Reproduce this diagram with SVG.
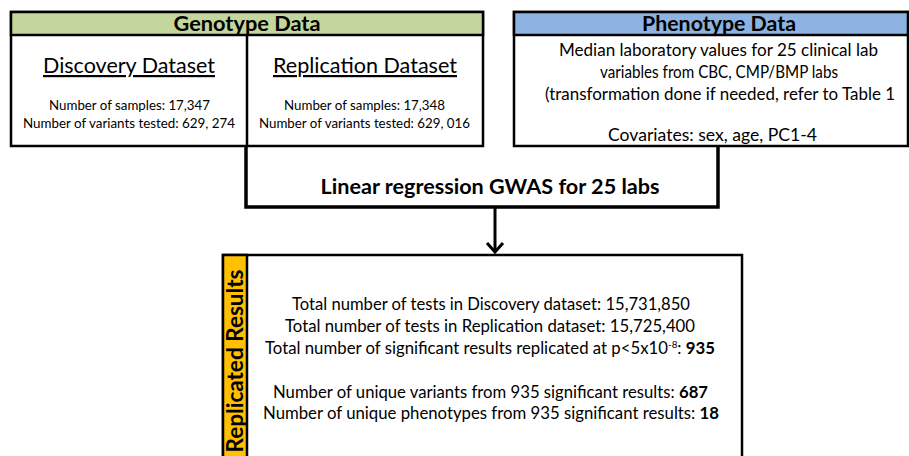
<svg xmlns="http://www.w3.org/2000/svg" width="909" height="456" viewBox="0 0 909 456">
<style>
text{font-family:Lato,"Open Sans","Liberation Sans",sans-serif;fill:#000;text-anchor:middle}
.box{fill:#fff;stroke:#000;stroke-width:2.5}
.hd{font-weight:bold;font-size:21px}
.ds{font-size:22px;text-decoration:underline}
.sm{font-size:14px}
.md{font-size:17px}
.b{font-weight:bold}
.conn{fill:none;stroke:#000;stroke-width:3.5}
</style>
<rect width="909" height="456" fill="#fff"/>
<g id="genotype">
<rect class="box" x="11" y="12" width="472" height="134"/>
<rect x="11" y="12" width="472" height="23" fill="#c3d69b" stroke="#000" stroke-width="2.5"/>
<line x1="247" y1="35" x2="247" y2="146" stroke="#000" stroke-width="2.5"/>
<text class="hd" x="247" y="31" textLength="147" lengthAdjust="spacingAndGlyphs">Genotype Data</text>
<text class="ds" x="129" y="73" textLength="172" lengthAdjust="spacingAndGlyphs">Discovery Dataset</text>
<text class="sm" x="129.5" y="110" textLength="161" lengthAdjust="spacingAndGlyphs">Number of samples: 17,347</text>
<text class="sm" x="129" y="128" textLength="212" lengthAdjust="spacingAndGlyphs">Number of variants tested: 629, 274</text>
<text class="ds" x="365" y="73" textLength="184" lengthAdjust="spacingAndGlyphs">Replication Dataset</text>
<text class="sm" x="364.5" y="110" textLength="161" lengthAdjust="spacingAndGlyphs">Number of samples: 17,348</text>
<text class="sm" x="364.5" y="128" textLength="211" lengthAdjust="spacingAndGlyphs">Number of variants tested: 629, 016</text>
</g>
<g id="phenotype">
<rect class="box" x="514" y="12" width="394" height="134"/>
<rect x="514" y="12" width="394" height="23" fill="#8db3e2" stroke="#000" stroke-width="2.5"/>
<text class="hd" x="719" y="31" textLength="154" lengthAdjust="spacingAndGlyphs">Phenotype Data</text>
<text class="md" x="718.5" y="56" textLength="319" lengthAdjust="spacingAndGlyphs">Median laboratory values for 25 clinical lab</text>
<text class="md" x="719" y="78" textLength="238" lengthAdjust="spacingAndGlyphs">variables from CBC, CMP/BMP labs</text>
<text class="md" x="720" y="100" textLength="350" lengthAdjust="spacingAndGlyphs">(transformation done if needed, refer to Table 1</text>
<text class="md" x="712.5" y="141" textLength="209" lengthAdjust="spacingAndGlyphs">Covariates: sex, age, PC1-4</text>
</g>
<g id="connectors">
<path class="conn" d="M246,146 V207 H718 V146"/>
<line x1="495" y1="207" x2="495" y2="251" stroke="#000" stroke-width="3"/>
<polyline points="487,243 495,252 503,243" fill="none" stroke="#000" stroke-width="3"/>
</g>
<g id="regression">
<text class="hd b" x="490" y="194" textLength="339" lengthAdjust="spacingAndGlyphs">Linear regression GWAS for 25 labs</text>
</g>
<g id="results">
<rect class="box" x="223" y="255" width="519" height="210"/>
<rect x="223" y="255" width="24" height="210" fill="#ffc000" stroke="#000" stroke-width="2.5"/>
<text class="b" font-size="22" transform="translate(243,361) rotate(-90)" textLength="183" lengthAdjust="spacingAndGlyphs">Replicated Results</text>
<text class="md" x="491" y="310" textLength="398" lengthAdjust="spacingAndGlyphs">Total number of tests in Discovery dataset: 15,731,850</text>
<text class="md" x="490" y="332" textLength="410" lengthAdjust="spacingAndGlyphs">Total number of tests in Replication dataset: 15,725,400</text>
<text class="md" x="490" y="354" textLength="450" lengthAdjust="spacingAndGlyphs">Total number of significant results replicated at p&lt;5x10<tspan font-size="10" dy="-6">-8</tspan><tspan dy="6">: </tspan><tspan class="b">935</tspan></text>
<text class="md" x="490.5" y="398" textLength="435" lengthAdjust="spacingAndGlyphs">Number of unique variants from 935 significant results: <tspan class="b">687</tspan></text>
<text class="md" x="491" y="419" textLength="456" lengthAdjust="spacingAndGlyphs">Number of unique phenotypes from 935 significant results: <tspan class="b">18</tspan></text>
</g>
</svg>
